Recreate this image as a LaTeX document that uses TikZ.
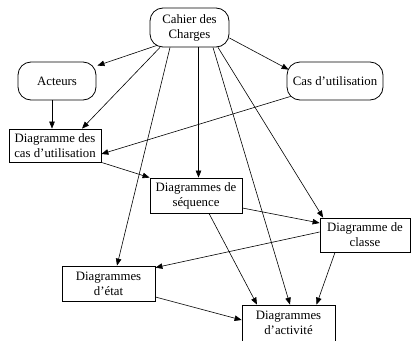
\documentclass[tikz,border=0pt]{standalone}
\usepackage{fontspec}
\setmainfont{Liberation Serif}
\usetikzlibrary{arrows.meta}
\begin{document}
\begin{tikzpicture}[x=1pt,y=-1pt,
		rund/.style={draw,rounded corners=13pt,align=center,inner sep=0pt,line width=0.8pt},
		kasten/.style={draw,align=center,inner sep=0pt,line width=0.8pt},
		pfeil/.style={-{Triangle[length=7pt,width=5.5pt]},line width=0.6pt},
		font=\fontsize{12.8}{15}\selectfont]
	\useasboundingbox (0,0) rectangle (411,340);
	% Abgerundete Kaesten
	\node[rund,minimum width=79pt,minimum height=39pt] (cdc) at (189.5,27.5) {Cahier des\\Charges};
	\node[rund,minimum width=78pt,minimum height=38pt] (act) at (57,81) {Acteurs};
	\node[rund,minimum width=96pt,minimum height=38pt] (cas) at (335,81) {Cas d’utilisation};
	% Diagramme
	\node[kasten,minimum width=92pt,minimum height=33pt] (dcu) at (55,145.5) {Diagramme des\\cas d’utilisation};
	\node[kasten,minimum width=92pt,minimum height=35pt] (seq) at (196,195.5) {Diagrammes de\\séquence};
	\node[kasten,minimum width=90pt,minimum height=34pt] (cls) at (365,235) {Diagramme de\\classe};
	\node[kasten,minimum width=93pt,minimum height=35pt] (eta) at (108.5,283.5) {Diagrammes\\d’état};
	\node[kasten,minimum width=93pt,minimum height=36pt] (acv) at (288.5,323) {Diagrammes\\d’activité};
	% Pfeile vom Cahier des Charges
	\draw[pfeil] ([shift={(-32.5,-2)}]cdc.south) -- ([shift={(1,4)}]act.north east);
	\draw[pfeil] ([shift={(-29.5,0)}]cdc.south) -- ([shift={(27,0)}]dcu.north);
	\draw[pfeil] ([shift={(0,10.5)}]cdc.east) -- ([shift={(2,8)}]cas.north west);
	\draw[pfeil] ([shift={(-19.5,0)}]cdc.south) -- ([shift={(8.5,0)}]eta.north);
	\draw[pfeil] ([shift={(9,0)}]cdc.south) -- ([shift={(2.5,0)}]seq.north);
	\draw[pfeil] ([shift={(23.5,0)}]cdc.south) -- ([shift={(1.5,0)}]acv.north);
	\draw[pfeil] ([shift={(28.5,0)}]cdc.south) -- ([shift={(3.5,0)}]cls.north west);
	% Uebrige Pfeile
	\draw[pfeil] ([shift={(-5,0)}]act.south) -- ([shift={(-3,0)}]dcu.north);
	\draw[pfeil] ([shift={(4,-4)}]cas.south west) -- ([shift={(0,8.5)}]dcu.east);
	\draw[pfeil] (dcu.south east) -- (seq.north west);
	\draw[pfeil] ([shift={(0,12.5)}]seq.east) -- ([shift={(0,-12)}]cls.west);
	\draw[pfeil] ([shift={(13,0)}]seq.south) -- ([shift={(-31.5,0)}]acv.north);
	\draw[pfeil] ([shift={(0,-3)}]cls.west) -- ([shift={(0,2)}]eta.north east);
	\draw[pfeil] ([shift={(-30,0)}]cls.south) -- ([shift={(28,0)}]acv.north);
	\draw[pfeil] ([shift={(0,13.5)}]eta.east) -- ([shift={(0,-3)}]acv.west);
\end{tikzpicture}
\end{document}
